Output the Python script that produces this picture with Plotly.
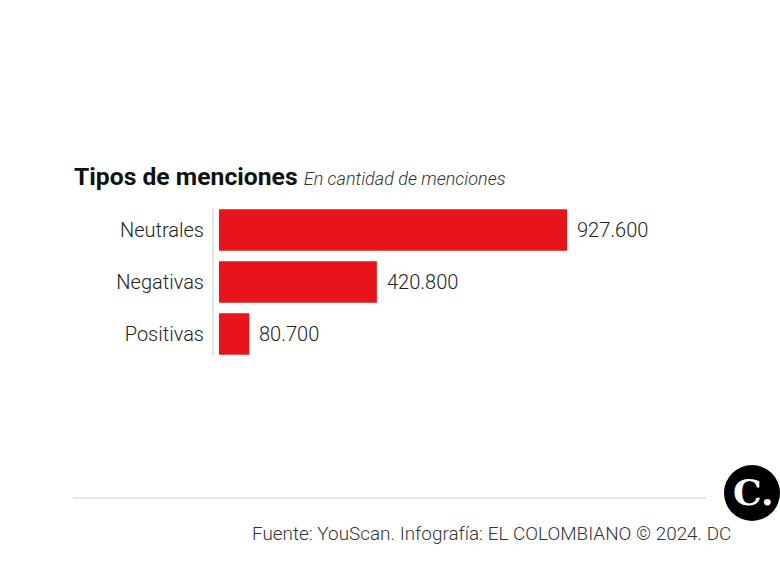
import plotly.graph_objects as go

categories = ["Neutrales", "Negativas", "Positivas"]
values = [927600, 420800, 80700]
value_labels = ["927.600", "420.800", "80.700"]

title_text = "Tipos de menciones"
subtitle_text = "En cantidad de menciones"
source_text = "Fuente: YouScan. Infografía: EL COLOMBIANO © 2024. DC"

W, H = 780, 565
L, R, T, B = 213, 67, 204, 205
PW, PH = W - L - R, H - T - B
px_per_unit = 348 / 927600
xmin = -6 / px_per_unit
xmax = xmin + PW / px_per_unit


def px(x):
    return (x - L) / PW


def py(y):
    return (H - y - B) / PH


fig = go.Figure(go.Bar(
    x=values, y=categories, orientation="h",
    marker=dict(color="#e8141b", line=dict(width=0)),
    width=0.8, hoverinfo="skip",
))

for c, v, t in zip(categories, values, value_labels):
    fig.add_annotation(x=v, y=c, xref="x", yref="y", text=t, showarrow=False,
                       xanchor="left", yanchor="middle", xshift=8,
                       font=dict(family="Roboto", size=20, color="#222222", weight=300))

fig.update_layout(
    width=W, height=H,
    margin=dict(l=L, r=R, t=T, b=B, pad=0),
    paper_bgcolor="white", plot_bgcolor="white",
    showlegend=False,
    xaxis=dict(range=[xmin, xmax], visible=False, fixedrange=True),
    yaxis=dict(autorange=False, range=[2.5, -0.5], showgrid=False, zeroline=False,
               showline=False, ticks="", ticklabelstandoff=8, fixedrange=True,
               tickfont=dict(family="Roboto", size=20, color="#222222", weight=300)),
    font=dict(family="Roboto"),
)

# vertical baseline
fig.add_shape(type="line", xref="paper", yref="paper", x0=0, x1=0,
              y0=py(356), y1=py(208),
              line=dict(color="#c8ccd6", width=1))

# title + subtitle
fig.add_annotation(
    xref="paper", yref="paper",
    x=px(72), y=py(193),
    xanchor="left", yanchor="bottom", showarrow=False,
    text=f"<b>{title_text}</b> <i><span style='font-size:18px;font-weight:300;color:#333'>{subtitle_text}</span></i>",
    font=dict(family="Roboto", size=24.7, color="#111111"),
)

# bottom rule
fig.add_shape(type="line", xref="paper", yref="paper",
              x0=px(73), x1=px(706), y0=py(498), y1=py(498),
              line=dict(color="#cfcfcf", width=1))

# logo circle
cx, cy, r = 752, 493, 28
fig.add_shape(type="circle", xref="paper", yref="paper",
              x0=px(cx - r), x1=px(cx + r), y0=py(cy + r), y1=py(cy - r),
              fillcolor="black", line=dict(width=0))
fig.add_annotation(xref="paper", yref="paper",
                   x=px(cx + 1), y=py(cy - 1),
                   xanchor="center", yanchor="middle", showarrow=False,
                   text="<b>C.</b>",
                   font=dict(family="DejaVu Serif", size=36, color="white"))

# source
fig.add_annotation(xref="paper", yref="paper",
                   x=px(733), y=py(533),
                   xanchor="right", yanchor="middle", showarrow=False,
                   text=source_text,
                   font=dict(family="Roboto", size=18.9, color="#333333", weight=300))

fig.write_html("out.html", config={"displayModeBar": False},
               post_script="document.body.style.margin='0';document.body.style.overflow='hidden';")
